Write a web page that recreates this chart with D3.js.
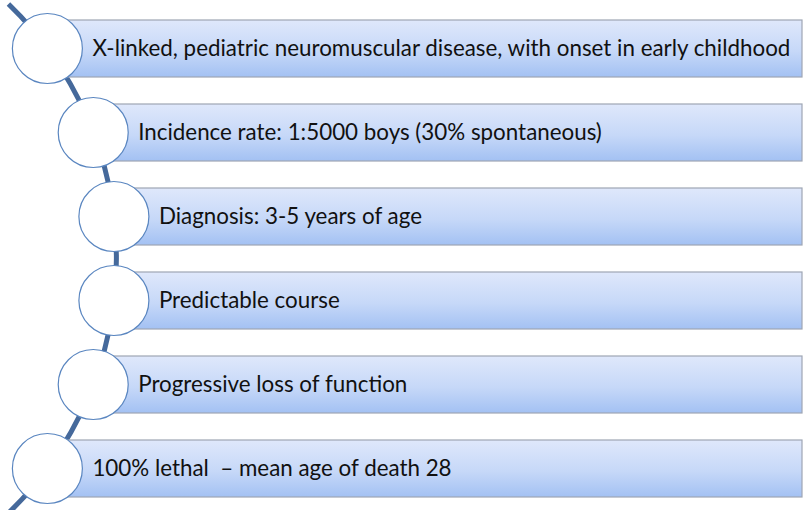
<!DOCTYPE html>
<html><head><meta charset="utf-8">
<script src="https://cdn.jsdelivr.net/npm/d3@7"></script>
<style>html,body{margin:0;padding:0;background:#fff;}svg{display:block;}</style>
</head><body>
<svg id="c" width="804" height="510"></svg>
<script>
const items = [
  "X-linked, pediatric neuromuscular disease, with onset in early childhood",
  "Incidence rate: 1:5000 boys (30% spontaneous)",
  "Diagnosis: 3-5 years of age",
  "Predictable course",
  "Progressive loss of function",
  "100% lethal  \u2013 mean age of death 28"
];
const order = d3.range(items.length);

const W = 804, H = 510;
const svg = d3.select("#c");
const y = d3.scalePoint().domain(order).range([48.5, 468.5]);
const arcC = {x: -237.6, y: 258.5, r: 354};
const xOnArc = yy => arcC.x + Math.sqrt(arcC.r*arcC.r - (yy-arcC.y)*(yy-arcC.y));
const rCircle = 35, barH = 57, barRight = 802;

const defs = svg.append("defs");
const g = defs.append("linearGradient").attr("id","barGrad").attr("x1",0).attr("y1",0).attr("x2",0).attr("y2",1);
g.append("stop").attr("offset","0%").attr("stop-color","#dfe8fb");
g.append("stop").attr("offset","55%").attr("stop-color","#c6d8f8");
g.append("stop").attr("offset","100%").attr("stop-color","#a3c1f3");

// connecting arc
const y0 = 4, y1 = 513;
svg.append("path")
  .attr("d", `M${xOnArc(y0)},${y0} A${arcC.r},${arcC.r} 0 0 1 ${xOnArc(y1)},${y1}`)
  .attr("fill","none").attr("stroke","#45699b").attr("stroke-width",5);

// bars
svg.selectAll("rect.bar").data(order).join("rect").attr("class","bar")
  .attr("x", d => xOnArc(y(d)))
  .attr("y", d => y(d) - barH/2)
  .attr("width", d => barRight - xOnArc(y(d)))
  .attr("height", barH)
  .attr("fill","url(#barGrad)")
  .attr("stroke","#9ea6b4").attr("stroke-width",1.2);

// circles
svg.selectAll("circle.node").data(order).join("circle").attr("class","node")
  .attr("cx", d => xOnArc(y(d)))
  .attr("cy", d => y(d))
  .attr("r", rCircle)
  .attr("fill","#fff").attr("stroke","#5a86c0").attr("stroke-width",1.2);

// labels
const labels = svg.selectAll("text.lbl").data(order).join("text").attr("class","lbl")
  .attr("x", d => xOnArc(y(d)) + rCircle + 10)
  .attr("y", d => y(d))
  .attr("dy","0.35em")
  .attr("font-family","Lato, 'Open Sans', sans-serif")
  .attr("font-size",20)
  .attr("fill","#111")
  .style("white-space","pre")
  .text(d => items[d]);
// fit font size so first line spans like the reference
const w0 = labels.filter(d => d === 0).node().getComputedTextLength();
const fs = 20 * 698 / w0;
labels.attr("font-size", fs);
</script>
</body></html>
